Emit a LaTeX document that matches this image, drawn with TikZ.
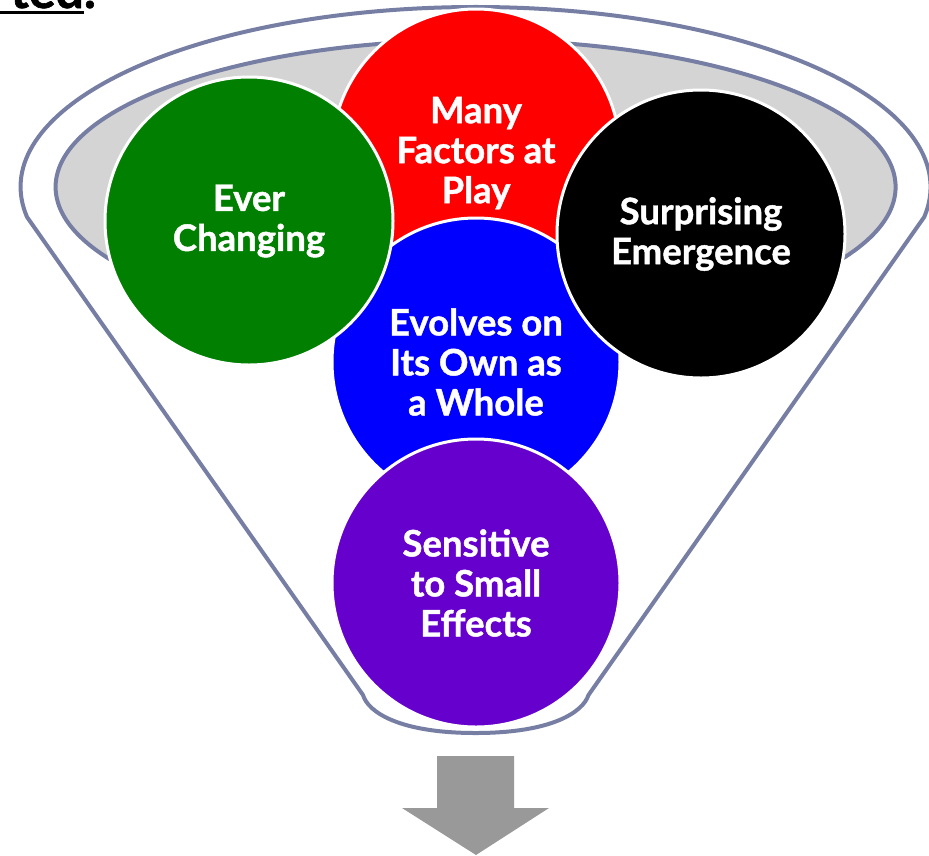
\documentclass[tikz,border=0pt]{standalone}
\usepackage{fontspec}
\setmainfont{Lato}
\newfontfamily\bubfont{Lato}[BoldFeatures={FakeBold=1.2}]
\definecolor{cgreen}{RGB}{0,127,0}
\definecolor{cred}{RGB}{255,0,0}
\definecolor{cblue}{RGB}{0,0,255}
\definecolor{cpurple}{RGB}{102,0,204}
\definecolor{crim}{RGB}{212,212,212}
\definecolor{cline}{RGB}{118,126,164}
\definecolor{carrow}{RGB}{153,153,153}
\begin{document}
\begin{tikzpicture}[x=1pt,y=-1pt,
  bub/.style={circle, draw=white, line width=3pt, minimum size=288pt, inner sep=0pt,
    text=white, font=\bubfont\fontsize{36.5}{40}\selectfont\bfseries, align=center},
  funnel/.style={draw=cline, line width=4pt, fill=white, line join=round},
  rim/.style={draw=cline, line width=4pt, fill=crim}]
\useasboundingbox (0,0) rectangle (929,855);
\clip (0,0) rectangle (929,855);
% top-left cut-off title
\node[anchor=base east, inner sep=0pt, font=\bubfont\fontsize{50}{60}\selectfont\bfseries] (title) at (96,8) {ted.};
\fill (0,11) rectangle (84,13.5);
% funnel body
\draw[funnel] (363,695) -- (27,217)
  arc[start angle=170.4, end angle=369.6, x radius=455, y radius=180]
  -- (588.5,695) .. controls (583,712) and (552,733) .. (475.6,733)
  .. controls (399,733) and (368,712) .. (363,695) -- cycle;
% rim
\draw[rim] (475.6,187) ellipse [x radius=420, y radius=147];
% circles
\node[bub, fill=cred] (factors) at (476,153) {Many\\Factors at\\Play};
\node[bub, fill=cblue] (evolves) at (476,362) {Evolves on\\Its Own as\\a Whole};
\node[bub, fill=cgreen] (ever) at (249,221) {Ever\\Changing};
\node[bub, fill=black] (surprise) at (701,234) {Surprising\\Emergence};
\node[bub, fill=cpurple] (sensitive) at (476,583) {Sensitive\\to Small\\Effects};
% arrow
\fill[carrow] (437,756) -- (514,756) -- (514,808) -- (549,808) -- (476,855)
  -- (402,808) -- (437,808) -- cycle;
\end{tikzpicture}
\end{document}
